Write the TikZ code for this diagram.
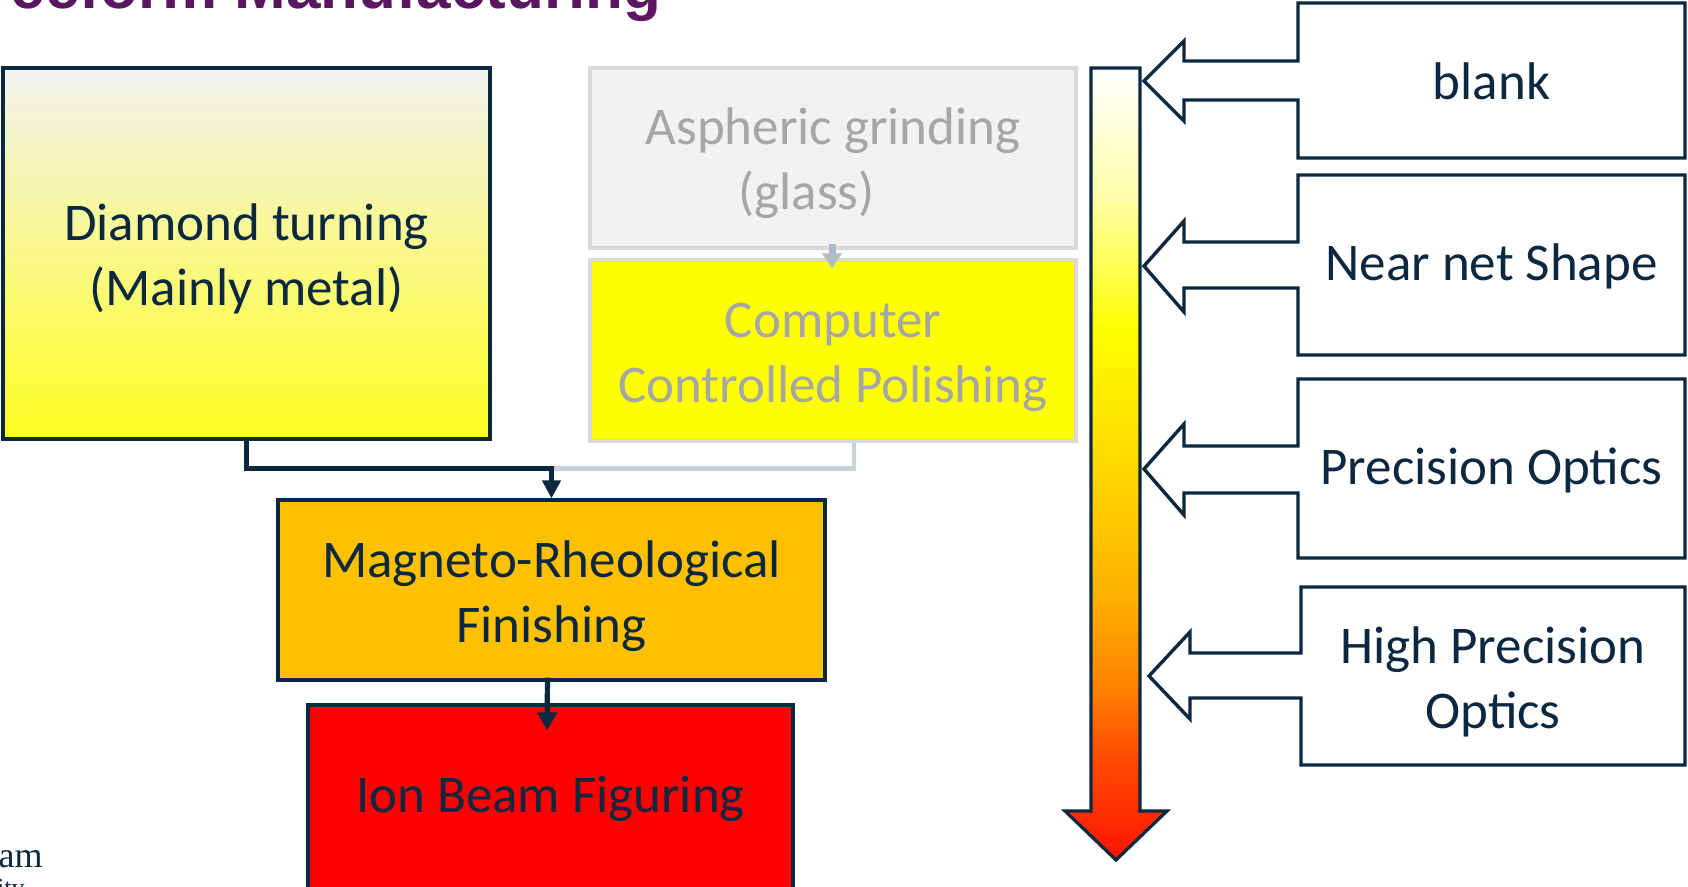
\documentclass[tikz,border=0pt]{standalone}
\usepackage{fontspec}
\setmainfont{Carlito}
\newfontfamily\titlefont{Liberation Sans}
\newfontfamily\logofont{Liberation Serif}
\usetikzlibrary{arrows.meta,calc}

\definecolor{ink}{RGB}{12,40,64}
\definecolor{titlepurple}{RGB}{90,22,96}
\definecolor{ghosttext}{RGB}{166,166,166}
\definecolor{ghostline}{RGB}{217,217,217}
\definecolor{ghostfill}{RGB}{242,242,242}
\definecolor{paleconn}{RGB}{201,209,217}
\definecolor{palearrow}{RGB}{176,187,198}
\definecolor{mrffill}{RGB}{255,192,0}
\definecolor{ionfill}{RGB}{255,0,0}
\definecolor{ccpfill}{RGB}{255,255,0}
\definecolor{dtbottom}{RGB}{255,255,32}
\definecolor{heatL}{RGB}{255,255,168}
\definecolor{heatA}{RGB}{255,255,0}
\definecolor{heatB}{RGB}{255,213,0}
\definecolor{heatC}{RGB}{255,176,0}
\definecolor{heatD}{RGB}{255,128,0}
\definecolor{heatE}{RGB}{255,74,0}
\definecolor{heatF}{RGB}{255,20,0}

% white at the top of the bar, red at the tip
\pgfdeclareverticalshading{heatbar}{100bp}{%
  color(0bp)=(heatF); color(25bp)=(heatF); color(31.3bp)=(heatE);
  color(35.7bp)=(heatD); color(41.4bp)=(heatC); color(49bp)=(heatB);
  color(58.5bp)=(heatA); color(66.7bp)=(heatL); color(75bp)=(white);
  color(100bp)=(white)}

\tikzset{
  txt/.style={font=\fontsize{26.5}{32.5}\selectfont, text=ink, align=center},
  ghosttxt/.style={txt, text=ghosttext},
  box/.style={draw=ink, line width=1.6pt, inner sep=0pt},
  ghostbox/.style={box, draw=ghostline},
  conn/.style={draw=ink, line width=2.2pt},
  paleline/.style={draw=paleconn, line width=2.2pt},
  callout/.style={draw=ink, line width=1.7pt, fill=white, line join=miter},
}

\begin{document}
\begin{tikzpicture}[x=0.5pt, y=-0.5pt]
\useasboundingbox (0,0) rectangle (1688,887);
\clip (0,0) rectangle (1688,887);

% heading, partly off the top edge
\node[anchor=base east, inner sep=0, text=titlepurple,
      font=\titlefont\bfseries\fontsize{31}{36}\selectfont] (title) at (662,9)
      {Freeform Manufacturing};

% logo fragment
\node[anchor=base east, inner sep=0, text=ink, font=\logofont\fontsize{18}{20}\selectfont]
  (logoA) at (43,867) {am};
\node[anchor=base east, inner sep=0, text=ink, font=\logofont\fontsize{13}{14}\selectfont]
  (logoB) at (25,896) {ity};

% process boxes
\node[box, top color=ghostfill, bottom color=dtbottom,
      minimum width=243.5pt, minimum height=185.5pt] (diamond) at (246.5,253.5) {};
\node[txt] (diamondtxt) at ($(diamond.center)+(0,5)$) {Diamond turning\\(Mainly metal)};

\node[ghostbox, fill=ghostfill, minimum width=243pt, minimum height=90pt]
  (asph) at (833,158) {};
\node[ghosttxt] (asphtxt) at ($(asph.center)+(0,5)$) {Aspheric grinding\\(glass)\hspace*{1em}};

\node[ghostbox, fill=ccpfill, minimum width=243pt, minimum height=90.5pt]
  (ccp) at (833,350.5) {};
\node[ghosttxt] (ccptxt) at ($(ccp.center)+(0,6.5)$) {Computer\\Controlled Polishing};

\node[box, fill=mrffill, minimum width=273.5pt, minimum height=90pt]
  (mrf) at (551.5,590) {};
\node[txt] (mrftxt) at ($(mrf.center)+(0,6.5)$) {Magneto-Rheological\\Finishing};

\node[box, fill=ionfill, minimum width=242.5pt, minimum height=95pt]
  (ion) at (550.5,800) {};
\node[txt] (iontxt) at ($(ion.center)+(0,-1)$) {Ion Beam Figuring};

% connectors
\coordinate (join) at ($(mrf.north)+(0,-30)$);
\draw[paleline] ($(ccp.south)+(21,0)$) |- (join);
\draw[conn, -{Triangle[length=9pt,width=9pt]}] (diamond.south) |- (join) -- (mrf.north);
\draw[draw=palearrow, line width=3.5pt, -{Triangle[length=7.5pt,width=9.5pt]}]
  ($(asph.south)+(-1,-6)$) -- ($(ccp.north)+(-1,10)$);
\draw[conn, line width=2.6pt, -{Triangle[length=9pt,width=9.5pt]}]
  ($(mrf.south)+(-4,-4)$) -- ($(ion.north)+(-3.5,27)$);

% quality scale bar
\path[shading=heatbar, draw=ink, line width=1.6pt]
  (1091,68) -- (1140,68) -- (1140,811) -- (1167,811) -- (1116,860)
  -- (1065,811) -- (1091,811) -- cycle;

% callouts pointing at the bar
\draw[callout] (1298,3) -- (1685,3) -- (1685,158) -- (1298,158) -- (1298,100)
  -- (1184,100) -- (1184,121) -- (1144,81) -- (1184,41) -- (1184,61) -- (1298,61) -- cycle;
\node[txt] (blank) at (1491.5,81) {blank};

\draw[callout] (1298,175) -- (1685,175) -- (1685,355) -- (1298,355) -- (1298,288)
  -- (1184,288) -- (1184,312) -- (1144,266) -- (1184,221) -- (1184,242) -- (1298,242) -- cycle;
\node[txt] (near) at (1491.5,266) {Near net Shape};

\draw[callout] (1298,379) -- (1685,379) -- (1685,558) -- (1298,558) -- (1298,493)
  -- (1184,493) -- (1184,515) -- (1144,469) -- (1184,424) -- (1184,446) -- (1298,446) -- cycle;
\node[txt] (prec) at (1491.5,470) {Precision Optics};

\draw[callout] (1301,587) -- (1685,587) -- (1685,765) -- (1301,765) -- (1301,698)
  -- (1190,698) -- (1190,719) -- (1149,676) -- (1190,632) -- (1190,653) -- (1301,653) -- cycle;
\node[txt] (hprec) at (1493,682) {High Precision\\Optics};
\end{tikzpicture}
\end{document}
